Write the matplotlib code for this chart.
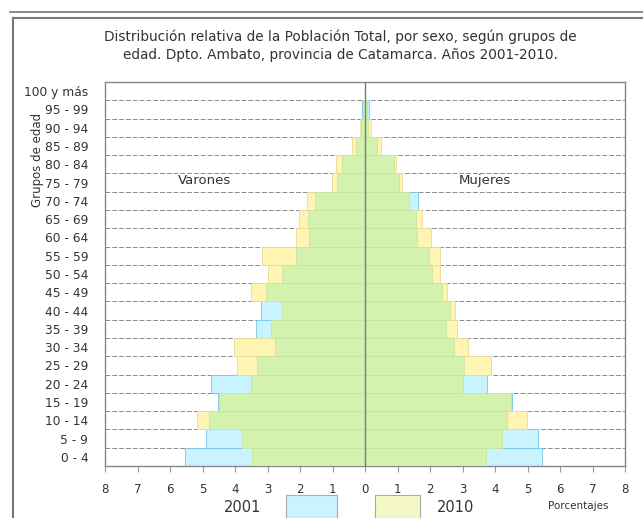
import numpy as np
import matplotlib.pyplot as plt
from matplotlib.lines import Line2D
from matplotlib.patches import Rectangle

# Age groups, bottom to top
groups = ['0 - 4', '5 - 9', '10 - 14', '15 - 19', '20 - 24', '25 - 29', '30 - 34',
          '35 - 39', '40 - 44', '45 - 49', '50 - 54', '55 - 59', '60 - 64', '65 - 69',
          '70 - 74', '75 - 79', '80 - 84', '85 - 89', '90 - 94', '95 - 99', '100 y más']

# Percentages
male_2001 = [5.53, 4.90, 4.81, 4.52, 4.74, 3.32, 2.77, 3.34, 3.20, 3.05, 2.54,
             2.13, 1.72, 1.75, 1.54, 0.86, 0.72, 0.28, 0.11, 0.10, 0.0]
male_2010 = [3.49, 3.80, 5.16, 4.50, 3.52, 3.95, 4.02, 2.88, 2.54, 3.52, 2.98,
             3.16, 2.11, 2.04, 1.80, 1.03, 0.90, 0.40, 0.14, 0.05, 0.0]
female_2001 = [5.46, 5.32, 4.37, 4.52, 3.76, 3.04, 2.73, 2.48, 2.61, 2.36, 2.07,
               1.97, 1.60, 1.58, 1.63, 1.04, 0.89, 0.37, 0.10, 0.12, 0.0]
female_2010 = [3.71, 4.23, 4.99, 4.50, 3.02, 3.89, 3.17, 2.84, 2.77, 2.52, 2.32,
               2.30, 2.04, 1.74, 1.36, 1.15, 0.95, 0.48, 0.17, 0.05, 0.0]

x_ticks = list(range(-8, 9))
x_labels = [str(abs(t)) for t in x_ticks]

cyan = '#C8F3FF'
yellow = '#FFF4B2'
green = '#D3F2AE'
text_col = '#333333'

fig = plt.figure(figsize=(6.43, 5.18), dpi=100)
ax = fig.add_axes([105 / 643, 52 / 518, 520 / 643, 384 / 518])

y = np.arange(len(groups))
for side, v01, v10 in ((-1, male_2001, male_2010), (1, female_2001, female_2010)):
    v01 = np.array(v01)
    v10 = np.array(v10)
    ax.barh(y, side * v01, height=1, color=cyan, edgecolor='#7CC4E6', lw=0.6, zorder=2)
    ax.barh(y, side * v10, height=1, color=yellow, edgecolor='#EADB9A', lw=0.6, zorder=2)
    ax.barh(y, side * np.minimum(v01, v10), height=1, color=green,
            edgecolor='#C4E4A0', lw=0.5, zorder=3)

# dashed row separators
for yy in np.arange(0.5, len(groups) - 0.5):
    ax.axhline(yy, color='#8a8a8a', ls=(0, (5, 2)), lw=0.7, zorder=1)
ax.axvline(0, color='#7a7a7a', lw=1, zorder=4)

ax.set_xlim(-8, 8)
ax.set_ylim(-0.5, len(groups) - 0.5)
ax.set_xticks(x_ticks)
ax.set_xticklabels(x_labels)
ax.set_yticks(y)
ax.set_yticklabels(groups)
ax.tick_params(axis='x', length=4, color='#999999', labelsize=8.5,
               labelcolor=text_col, pad=8)
ax.tick_params(axis='y', length=0, labelsize=8.8, labelcolor=text_col, pad=12)
for s in ax.spines.values():
    s.set_color('#888888')
    s.set_linewidth(1)

ax.text(-4.93, 15.1, 'Varones', ha='center', va='center', fontsize=9.5, color=text_col)
ax.text(3.68, 15.1, 'Mujeres', ha='center', va='center', fontsize=9.5, color=text_col)

fig.text(340 / 643, 1 - 46 / 518,
         'Distribución relativa de la Población Total, por sexo, según grupos de\n'
         'edad. Dpto. Ambato, provincia de Catamarca. Años 2001-2010.',
         ha='center', va='center', fontsize=9.8, color=text_col, linespacing=1.35)
fig.text(38 / 643, 1 - 160 / 518, 'Grupos de edad', rotation=90,
         ha='center', va='center', fontsize=8.5, color=text_col)
fig.text(578 / 643, 1 - 506 / 518, 'Porcentajes', ha='center', va='center',
         fontsize=7.5, color=text_col)

# legend boxes drawn over the axis labels
fig.add_artist(Rectangle((286 / 643, 0), 51 / 643, 23 / 518, transform=fig.transFigure,
                         facecolor=cyan, edgecolor='#aaaaaa', lw=0.8, zorder=10))
fig.add_artist(Rectangle((375 / 643, 0), 45 / 643, 23 / 518, transform=fig.transFigure,
                         facecolor='#F4F8C6', edgecolor='#aaaaaa', lw=0.8, zorder=10))
fig.text(243 / 643, 1 - 508 / 518, '2001', ha='center', va='center', fontsize=10.5,
         color=text_col, zorder=11)
fig.text(456 / 643, 1 - 508 / 518, '2010', ha='center', va='center', fontsize=10.5,
         color=text_col, zorder=11)

# outer frame
W, H = 643, 518
fig.add_artist(Line2D([10 / W, 1], [1 - 12 / H, 1 - 12 / H], transform=fig.transFigure,
                      color='#777777', lw=1.2))
fig.add_artist(Line2D([13 / W, 1], [1 - 18 / H, 1 - 18 / H], transform=fig.transFigure,
                      color='#777777', lw=1.5))
fig.add_artist(Line2D([13 / W, 13 / W], [0, 1 - 18 / H], transform=fig.transFigure,
                      color='#777777', lw=1.5))

fig.savefig('out.png', dpi=100)
